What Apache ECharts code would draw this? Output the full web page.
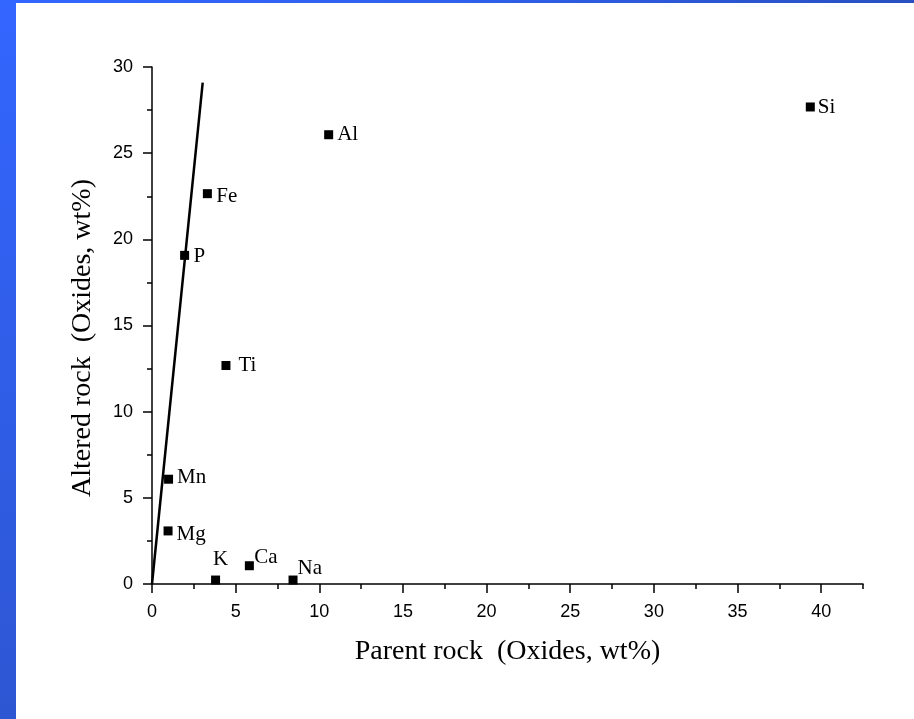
<!DOCTYPE html>
<html>
<head>
<meta charset="utf-8">
<script src="https://cdn.jsdelivr.net/npm/echarts@6/dist/echarts.min.js"></script>
<style>
html,body{margin:0;padding:0;background:#fff;}
#chart{width:914px;height:719px;}
</style>
</head>
<body>
<div id="chart"></div>
<script>
// ---- data ----
const elements = ['Si','Al','Fe','P','Ti','Mn','Mg','K','Ca','Na'];
const parentRock = [39.35, 10.56, 3.31, 1.95, 4.42, 0.99, 0.96, 3.80, 5.82, 8.43];
const alteredRock = [27.68, 26.07, 22.65, 19.07, 12.68, 6.08, 3.08, 0.23, 1.06, 0.23];
const lineX = [0, 3.03];
const lineY = [0, 29.1];
const xMajorTicks = [0, 5, 10, 15, 20, 25, 30, 35, 40];
const xMinorTicks = [2.5, 7.5, 12.5, 17.5, 22.5, 27.5, 32.5, 37.5, 42.5];
const xTitle = 'Parent rock  (Oxides, wt%)';
const yTitle = 'Altered rock  (Oxides, wt%)';

// ---- label placement (style) ----
const labelPlace = {
  Si: {position: 'right', distance: 3, offset: [0, 1]},
  Al: {position: 'right', distance: 4, offset: [0, 0]},
  Fe: {position: 'right', distance: 4.5, offset: [0, 3]},
  P:  {position: 'right', distance: 4.5, offset: [0, 1]},
  Ti: {position: 'right', distance: 8, offset: [0, 0]},
  Mn: {position: 'right', distance: 4, offset: [0, -2]},
  Mg: {position: 'right', distance: 4, offset: [0, 3.5]},
  K:  {position: 'top', distance: 5.5, offset: [5, 0]},
  Ca: {position: 'right', distance: 0.5, offset: [0, -8]},
  Na: {position: 'right', distance: 0, offset: [0, -12]}
};

const scatterData = elements.map((n, i) => ({
  name: n,
  value: [parentRock[i], alteredRock[i]],
  label: labelPlace[n]
}));
const lineData = lineX.map((x, i) => [x, lineY[i]]);

const axisFont = 'Liberation Sans, Arial, sans-serif';
const serif = 'Liberation Serif, Times New Roman, serif';

const chart = echarts.init(document.getElementById('chart'), null, {renderer: 'canvas'});
chart.setOption({
  backgroundColor: '#ffffff',
  animation: false,
  grid: {left: 152, right: 51, top: 67, bottom: 135, containLabel: false},
  graphic: [
    {type: 'rect', left: 0, top: 0, z: 100, shape: {width: 16, height: 719},
     style: {fill: new echarts.graphic.LinearGradient(0, 0, 0, 1, [{offset: 0, color: '#3366ff'}, {offset: 1, color: '#2d56d2'}])}},
    {type: 'rect', left: 0, top: 0, z: 100, shape: {width: 914, height: 3},
     style: {fill: new echarts.graphic.LinearGradient(0, 0, 1, 0, [{offset: 0, color: '#3366ff'}, {offset: 0.5, color: '#3060ec'}, {offset: 1, color: '#2850c0'}])}},
    {type: 'text', x: 83, y: 338, rotation: Math.PI / 2,
     style: {text: yTitle, font: '28px ' + serif, fill: '#000', align: 'center', verticalAlign: 'middle'}}
  ],
  xAxis: [
    {
      type: 'value', position: 'bottom', min: 0, max: 42.5,
      name: xTitle, nameLocation: 'middle', nameGap: 54,
      nameTextStyle: {fontFamily: serif, fontSize: 28, color: '#000'},
      splitLine: {show: false},
      axisLine: {show: true, onZero: false, lineStyle: {color: '#000', width: 1.5}},
      axisTick: {show: true, length: 9, lineStyle: {color: '#000', width: 1.5}, customValues: xMajorTicks},
      axisLabel: {show: true, margin: 19, color: '#000', fontFamily: axisFont, fontSize: 18, customValues: xMajorTicks}
    },
    {
      type: 'value', position: 'bottom', min: 0, max: 42.5,
      splitLine: {show: false},
      axisLine: {show: false},
      axisTick: {show: true, length: 5, lineStyle: {color: '#000', width: 1.5}, customValues: xMinorTicks},
      axisLabel: {show: false}
    }
  ],
  yAxis: {
    type: 'value', min: 0, max: 30, interval: 5,
    splitLine: {show: false},
    axisLine: {show: true, onZero: false, lineStyle: {color: '#000', width: 1.5}},
    axisTick: {show: true, length: 9, lineStyle: {color: '#000', width: 1.5}},
    minorTick: {show: true, splitNumber: 2, length: 5, lineStyle: {color: '#000', width: 1.5}},
    axisLabel: {margin: 19, color: '#000', fontFamily: axisFont, fontSize: 18}
  },
  series: [
    {
      type: 'line', xAxisIndex: 0, data: lineData, showSymbol: false, symbol: 'none',
      lineStyle: {color: '#000', width: 2.5}, z: 2, silent: true
    },
    {
      type: 'scatter', xAxisIndex: 0, data: scatterData, symbol: 'rect', symbolSize: 9,
      itemStyle: {color: '#000', opacity: 1}, z: 3,
      label: {show: true, formatter: '{b}', color: '#000', opacity: 1, fontFamily: serif, fontSize: 21}
    }
  ]
});
</script>
</body>
</html>
